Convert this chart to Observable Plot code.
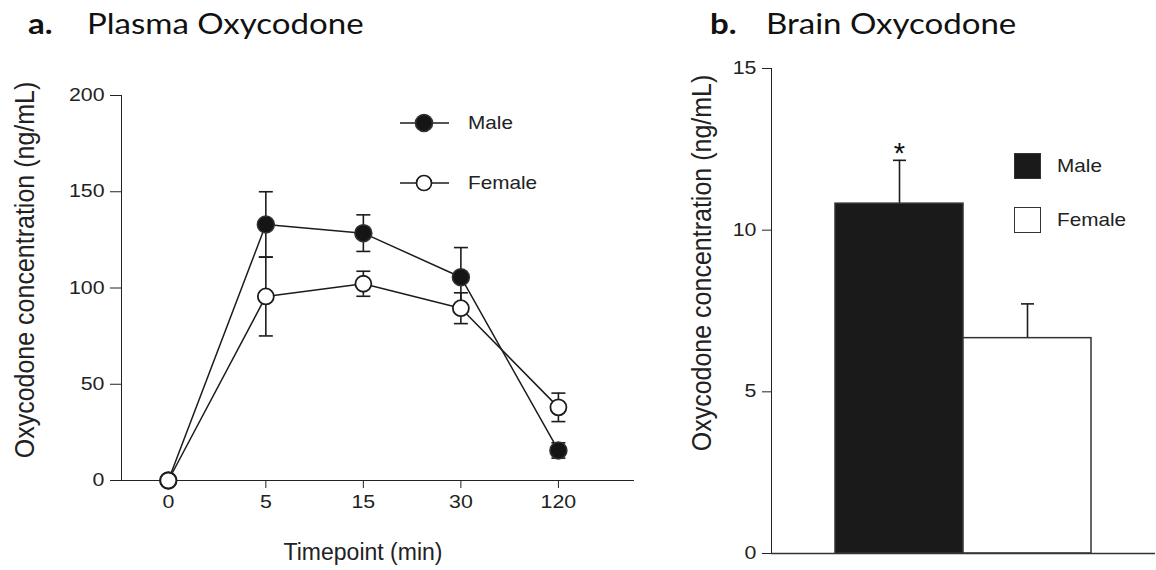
<!DOCTYPE html>
<html>
<head>
<meta charset="utf-8">
<script src="https://cdn.jsdelivr.net/npm/d3@7"></script>
<script src="https://cdn.jsdelivr.net/npm/@observablehq/plot@0.6"></script>
<style>
  html, body { margin: 0; padding: 0; background: #fff; }
  #root { position: relative; width: 1156px; height: 570px; overflow: hidden; font-family: "Liberation Sans", Arial, sans-serif; color: #222; }
  .abs { position: absolute; white-space: nowrap; }
  .title { font-family: Lato, "Open Sans", sans-serif; font-size: 28px; color: #111; transform-origin: 0 50%; transform: scaleX(1.18); }
  .title b { font-weight: 700; }
  .ytitle { font-size: 25px; transform: translate(-50%, -50%) rotate(-90deg) scaleY(1.08); }
  .xtitle { font-size: 23px; transform: translate(-50%, -50%); }
  .leg { font-size: 18.5px; transform-origin: 0 50%; transform: translateY(-50%) scaleX(1.12); }
</style>
</head>
<body>
<div id="root"></div>
<script>
// ---- data ----
const timepoints = ["0", "5", "15", "30", "120"];
const maleMean   = [0, 133, 128.5, 105.6, 15.6];
const maleSE     = [0, 17, 9.5, 15.4, 4];
const femaleMean = [0, 95.6, 102.2, 89.5, 38];
const femaleSE   = [0, 20.5, 6.5, 8, 7.4];
const plasmaTicks = [0, 50, 100, 150, 200];

const brainSex   = ["Male", "Female"];
const brainMean  = [10.82, 6.66];
const brainSE    = [1.34, 1.06];
const brainSig   = ["*", ""];
const brainTicks = [0, 5, 10, 15];

// ---- tables ----
const plasma = [];
timepoints.forEach((t, i) => {
  plasma.push({sex: "Male", i, mean: maleMean[i], se: maleSE[i]});
  plasma.push({sex: "Female", i, mean: femaleMean[i], se: femaleSE[i]});
});
const male = plasma.filter(d => d.sex === "Male");
const female = plasma.filter(d => d.sex === "Female");
const withErr = plasma.filter(d => d.se > 0);

const brain = brainSex.map((s, i) => ({sex: s, mean: brainMean[i], se: brainSE[i], sig: brainSig[i]}));

// horizontal cap symbol (half-width = r)
const capSymbol = {
  draw(ctx, size) {
    const w = Math.sqrt(size / Math.PI);
    ctx.moveTo(-w, 0);
    ctx.lineTo(w, 0);
  }
};

const root = document.getElementById("root");
const ink = "#1c1c1c";
const tickFont = "17.5px";

function widenTickLabels(svg) {
  svg.querySelectorAll('g[aria-label$="tick label"] text').forEach(t => {
    const tr = t.getAttribute("transform") || "";
    t.setAttribute("transform", tr + " scale(1.22,1)");
  });
}

// ---- panel a ----
const chartA = Plot.plot({
  width: 660, height: 570,
  marginLeft: 121, marginRight: 27, marginTop: 95, marginBottom: 90,
  style: {fontFamily: "'Liberation Sans', Arial, sans-serif", fontSize: tickFont, color: "#222", background: "transparent"},
  x: {domain: [-0.48, 4.77], ticks: [0, 1, 2, 3, 4], tickFormat: i => timepoints[i], tickSize: 8, tickPadding: 7, label: null, line: true},
  y: {domain: [0, 200], ticks: plasmaTicks, tickSize: 11, tickPadding: 6, label: null, line: true},
  marks: [
    Plot.ruleX(withErr, {x: "i", y1: d => d.mean - d.se, y2: d => d.mean + d.se, stroke: ink, strokeWidth: 1.6}),
    Plot.dot(withErr, {x: "i", y: d => d.mean - d.se, symbol: capSymbol, r: 7, stroke: ink, strokeWidth: 1.6, fill: "none"}),
    Plot.dot(withErr, {x: "i", y: d => d.mean + d.se, symbol: capSymbol, r: 7, stroke: ink, strokeWidth: 1.6, fill: "none"}),
    Plot.line(male, {x: "i", y: "mean", stroke: ink, strokeWidth: 1.5}),
    Plot.line(female, {x: "i", y: "mean", stroke: ink, strokeWidth: 1.5}),
    Plot.dot(male, {x: "i", y: "mean", r: 8.5, fill: "#151515", stroke: "#333", strokeWidth: 1.5}),
    Plot.dot(female, {x: "i", y: "mean", r: 8, fill: "#fff", stroke: ink, strokeWidth: 1.8})
  ]
});
widenTickLabels(chartA);
chartA.style.position = "absolute";
chartA.style.left = "0px";
chartA.style.top = "0px";
root.appendChild(chartA);

// ---- panel b ----
const chartB = Plot.plot({
  width: 496, height: 570,
  marginLeft: 111, marginRight: 1, marginTop: 68, marginBottom: 17,
  style: {fontFamily: "'Liberation Sans', Arial, sans-serif", fontSize: tickFont, color: "#222", background: "transparent"},
  x: {domain: brainSex, paddingInner: 0, paddingOuter: 0.49, axis: null},
  y: {domain: [0, 15], ticks: brainTicks, tickSize: 9, tickPadding: 6, label: null, line: true},
  color: {domain: brainSex, range: ["#1a1a1a", "#ffffff"]},
  marks: [
    Plot.ruleX(brain, {x: "sex", y1: "mean", y2: d => d.mean + d.se, stroke: ink, strokeWidth: 1.6}),
    Plot.dot(brain, {x: "sex", y: d => d.mean + d.se, symbol: capSymbol, r: 6.5, stroke: ink, strokeWidth: 1.6, fill: "none"}),
    Plot.barY(brain, {x: "sex", y: "mean", fill: "sex", stroke: "#333", strokeWidth: 1.5}),
    Plot.text(brain, {x: "sex", y: d => d.mean + d.se, text: "sig", dy: -7, fontSize: 29, fill: "#111"}),
    Plot.ruleY([0], {stroke: "#333", strokeWidth: 1.5})
  ]
});
widenTickLabels(chartB);
chartB.style.position = "absolute";
chartB.style.left = "660px";
chartB.style.top = "0px";
root.appendChild(chartB);

// ---- HTML text: titles, axis titles, legends ----
function addDiv(cls, html, left, top) {
  const d = document.createElement("div");
  d.className = "abs " + cls;
  d.innerHTML = html;
  d.style.left = left + "px";
  d.style.top = top + "px";
  root.appendChild(d);
  return d;
}
addDiv("title", "<b>a.</b>", 28, 6);
addDiv("title", "Plasma Oxycodone", 87, 6);
addDiv("title", "<b>b.</b>", 710, 6);
addDiv("title", "Brain Oxycodone", 766, 6);
addDiv("ytitle", "Oxycodone concentration (ng/mL)", 25, 270);
addDiv("ytitle", "Oxycodone concentration (ng/mL)", 702, 263);
addDiv("xtitle", "Timepoint (min)", 363, 552);

function legendLine(filled, left, cy, label) {
  const svgNS = "http://www.w3.org/2000/svg";
  const s = document.createElementNS(svgNS, "svg");
  s.setAttribute("width", 52); s.setAttribute("height", 22);
  s.style.position = "absolute"; s.style.left = left + "px"; s.style.top = (cy - 11) + "px";
  s.innerHTML = `<line x1="1" x2="50" y1="11" y2="11" stroke="${ink}" stroke-width="1.5"/>` +
    `<circle cx="25" cy="11" r="${filled ? 8.5 : 7.5}" fill="${filled ? "#151515" : "#fff"}" stroke="${filled ? "#333" : ink}" stroke-width="1.7"/>`;
  root.appendChild(s);
  addDiv("leg", label, left + 69, cy);
}
legendLine(true, 399, 123, "Male");
legendLine(false, 399, 183, "Female");

function legendBox(fill, left, top, label) {
  const d = document.createElement("div");
  d.className = "abs";
  d.style.left = left + "px"; d.style.top = top + "px";
  d.style.width = "25px"; d.style.height = "24px";
  d.style.background = fill; d.style.border = "1.5px solid #333";
  root.appendChild(d);
  addDiv("leg", label, left + 43, top + 13);
}
legendBox("#1a1a1a", 1014, 153, "Male");
legendBox("#ffffff", 1014, 207, "Female");
</script>
</body>
</html>
